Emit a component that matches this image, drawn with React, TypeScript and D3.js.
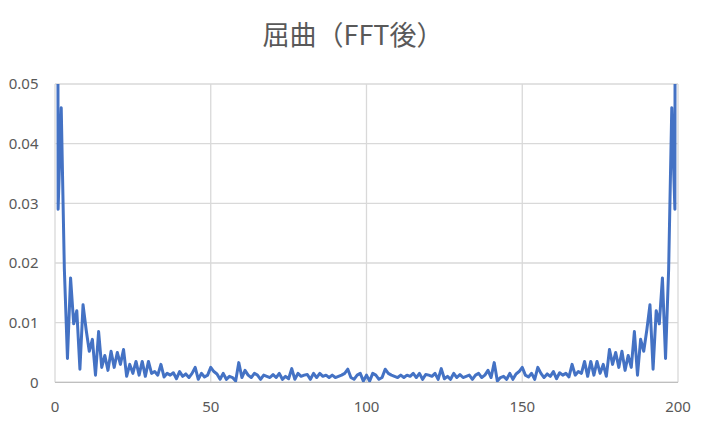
import { useEffect, useRef } from 'react';
import * as d3 from 'd3';

// FFT magnitude, index 0..200 (index 0 and 200 run far off the top of the axis)
const amplitude: number[] = [
  0.5, 0.029, 0.046, 0.019, 0.004, 0.0175, 0.0098, 0.012, 0.0022, 0.013,
  0.0088, 0.0052, 0.0072, 0.0012, 0.0085, 0.0025, 0.0045, 0.002, 0.0052, 0.0025,
  0.005, 0.003, 0.0055, 0.001, 0.003, 0.0015, 0.0035, 0.0012, 0.0035, 0.001,
  0.0035, 0.0015, 0.0018, 0.0012, 0.003, 0.0009, 0.0015, 0.0012, 0.0016, 0.0006,
  0.0018, 0.001, 0.0014, 0.0008, 0.0015, 0.0025, 0.0005, 0.0015, 0.0009, 0.0012,
  0.0025, 0.0018, 0.0014, 0.0005, 0.0015, 0.0005, 0.001, 0.0008, 0.0002, 0.0033,
  0.0008, 0.002, 0.0012, 0.0008, 0.0015, 0.0012, 0.0005, 0.0012, 0.001, 0.0008,
  0.0013, 0.0008, 0.0015, 0.0005, 0.001, 0.0006, 0.0023, 0.0005, 0.0015, 0.001,
  0.0012, 0.0013, 0.0005, 0.0015, 0.0008, 0.0015, 0.001, 0.0012, 0.0008, 0.0012,
  0.0008, 0.001, 0.0012, 0.0015, 0.0022, 0.0008, 0.0005, 0.0012, 0.0015, 0.0002,
  0.0012,
  0.0002, 0.0015, 0.0012, 0.0005, 0.0008, 0.0022, 0.0015, 0.0012, 0.001,
  0.0008, 0.0012, 0.0008, 0.0012, 0.001, 0.0015, 0.0008, 0.0015, 0.0005, 0.0013,
  0.0012, 0.001, 0.0015, 0.0005, 0.0023, 0.0006, 0.001, 0.0005, 0.0015, 0.0008,
  0.0013, 0.0008, 0.001, 0.0012, 0.0005, 0.0012, 0.0015, 0.0008, 0.0012, 0.002,
  0.0008, 0.0033, 0.0002, 0.0008, 0.001, 0.0005, 0.0015, 0.0005, 0.0014, 0.0018,
  0.0025, 0.0012, 0.0009, 0.0015, 0.0005, 0.0025, 0.0015, 0.0008, 0.0014, 0.001,
  0.0018, 0.0006, 0.0016, 0.0012, 0.0015, 0.0009, 0.003, 0.0012, 0.0018, 0.0015,
  0.0035, 0.001, 0.0035, 0.0012, 0.0035, 0.0015, 0.003, 0.001, 0.0055, 0.003,
  0.005, 0.0025, 0.0052, 0.002, 0.0045, 0.0025, 0.0085, 0.0012, 0.0072, 0.0052,
  0.0088, 0.013, 0.0022, 0.012, 0.0098, 0.0175, 0.004, 0.019, 0.046, 0.029,
  0.5,
];

const xTicks = [0, 50, 100, 150, 200];
const yTicks = [0, 0.01, 0.02, 0.03, 0.04, 0.05];
const TITLE = '屈曲（FFT後）';

const W = 706;
const H = 427;
const M = { left: 55, right: 28, top: 84, bottom: 44.7 };

export default function App() {
  const svgRef = useRef<SVGSVGElement>(null);

  useEffect(() => {
    document.body.style.margin = '0';
    const svg = d3.select(svgRef.current);
    svg.selectAll('*').remove();

    const x = d3.scaleLinear().domain([0, 200]).range([M.left, W - M.right]);
    const y = d3.scaleLinear().domain([0, 0.05]).range([H - M.bottom, M.top]);

    svg.append('rect').attr('width', W).attr('height', H).attr('fill', '#fff');

    // ── title ──
    svg.append('text')
      .attr('x', W / 2)
      .attr('y', 45)
      .attr('text-anchor', 'middle')
      .attr('font-family', '"Noto Sans CJK JP", sans-serif')
      .attr('font-size', 27)
      .attr('fill', '#595959')
      .text(TITLE);

    // ── gridlines ──
    const grid = svg.append('g').attr('stroke', '#d9d9d9').attr('stroke-width', 1.3);
    yTicks.forEach(t => {
      grid.append('line')
        .attr('x1', x(0)).attr('x2', x(200))
        .attr('y1', y(t)).attr('y2', y(t));
    });
    xTicks.forEach(t => {
      grid.append('line')
        .attr('x1', x(t)).attr('x2', x(t))
        .attr('y1', y(0)).attr('y2', y(0.05));
    });
    svg.append('line')
      .attr('x1', x(0)).attr('x2', x(200))
      .attr('y1', y(0)).attr('y2', y(0))
      .attr('stroke', '#bfbfbf').attr('stroke-width', 1.3);

    // ── tick labels ──
    const lbl = svg.append('g')
      .attr('font-family', '"Noto Sans", sans-serif')
      .attr('font-size', 15)
      .attr('fill', '#595959');
    yTicks.forEach(t => {
      lbl.append('text')
        .attr('x', 38.5)
        .attr('y', y(t))
        .attr('dy', '0.36em')
        .attr('text-anchor', 'end')
        .text(t === 0 ? '0' : d3.format('.2f')(t));
    });
    xTicks.forEach(t => {
      lbl.append('text')
        .attr('x', x(t))
        .attr('y', 412)
        .attr('text-anchor', 'middle')
        .text(t);
    });

    // ── series ──
    svg.append('clipPath').attr('id', 'plot-clip')
      .append('rect')
      .attr('x', x(0)).attr('y', y(0.05))
      .attr('width', x(200) - x(0)).attr('height', y(0) - y(0.05));

    const line = d3.line<number>()
      .x((_, i) => x(i))
      .y(d => y(d));

    svg.append('path')
      .attr('clip-path', 'url(#plot-clip)')
      .attr('d', line(amplitude))
      .attr('fill', 'none')
      .attr('stroke', '#4472c4')
      .attr('stroke-width', 3)
      .attr('stroke-linejoin', 'round');
  }, []);

  return <svg ref={svgRef} width={W} height={H} style={{ display: 'block' }} />;
}
